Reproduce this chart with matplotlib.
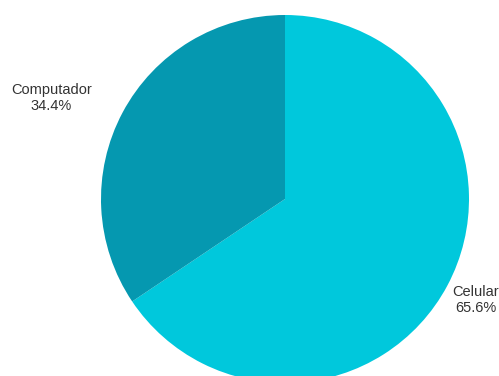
import numpy as np
import matplotlib.pyplot as plt

# device share
categories = ["Celular", "Computador"]
shares = [65.6, 34.4]
colors = ["#00c8dc", "#0598b0"]

fig = plt.figure(figsize=(4.99, 3.76), dpi=100)
ax = fig.add_axes([0, 0, 1, 1])

wedges, _ = ax.pie(shares, colors=colors, startangle=90, counterclock=False,
                   radius=1.0, wedgeprops=dict(linewidth=0))

# labels outside each slice
for w, name, val in zip(wedges, categories, shares):
    mid = np.deg2rad((w.theta1 + w.theta2) / 2)
    c, s = np.cos(mid), np.sin(mid)
    if c < 0:
        x, ha = 1.19 * c, "right"
    else:
        x, ha = 1.03 * c, "left"
    y = 1.17 * s
    ax.text(x, y, f"{name}\n{val:.1f}%", ha=ha, va="center", multialignment="center",
            fontsize=10.5, color="#333333", family="Liberation Sans", linespacing=1.2)

ax.set_xlim(-285 / 184, (499 - 285) / 184)
ax.set_ylim((199 - 376) / 184, 199 / 184)
ax.set_aspect("equal")
ax.axis("off")

fig.savefig("out.png", dpi=100)
